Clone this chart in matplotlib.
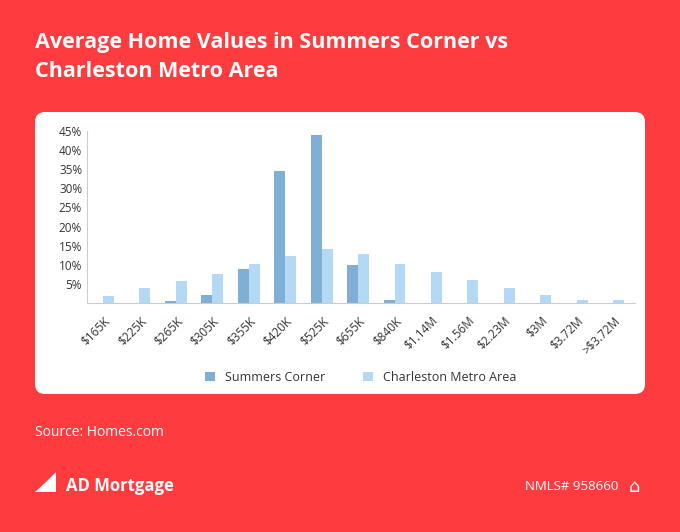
import matplotlib
matplotlib.use("Agg")
import matplotlib.pyplot as plt
from matplotlib.patches import FancyBboxPatch, Polygon
import numpy as np

plt.rcParams['font.family'] = ['Open Sans', 'DejaVu Sans']
categories = ["$165K","$225K","$265K","$305K","$355K","$420K","$525K","$655K","$840K","$1.14M","$1.56M","$2.23M","$3M","$3.72M",">$3.72M"]
summers = [0,0,0.5,2,8.8,34.5,44,10,0.8,0,0,0,0,0,0]
charleston = [1.8,4,5.8,7.5,10.3,12.3,14,12.8,10.2,8.2,6.1,4,2,0.9,0.9]
yticks = [5,10,15,20,25,30,35,40,45]

W,H = 680,532
fig = plt.figure(figsize=(W/100,H/100), dpi=100)
fig.patch.set_facecolor('#fe3b3f')
bg = fig.add_axes([0,0,1,1]); bg.set_xlim(0,W); bg.set_ylim(H,0); bg.axis('off')
bg.add_patch(FancyBboxPatch((35,112),610,282,boxstyle="round,pad=0,rounding_size=10",fc='white',ec='none'))
bg.text(35,57,"Average Home Values in Summers Corner vs\nCharleston Metro Area",color='white',fontsize=15.5,fontweight='bold',va='center',linespacing=1.45)
bg.text(35,433,"Source: Homes.com",color='white',fontsize=10,va='center')
bg.add_patch(Polygon([(35,472),(46,482),(56,472),(56,492),(35,492),(46,482)],closed=True,fc='white',ec='none'))
bg.text(66,486,"AD Mortgage",color='white',fontsize=12,fontweight='bold',va='center')
bg.text(618,487,"NMLS# 958660",color='white',fontsize=9.5,va='center',ha='right')
bg.text(634,487,"⌂",color='white',fontsize=13,va='center',ha='center',family=['DejaVu Sans'])

ax = fig.add_axes([87/W,1-303/H,(635-87)/W,(303-131)/H])
x = np.arange(len(categories)); w=0.3
ax.bar(x-w/2,summers,w,color='#7fafd5',label='Summers Corner')
ax.bar(x+w/2,charleston,w,color='#b4d9f5',label='Charleston Metro Area')
ax.set_ylim(0,45); ax.set_xlim(-0.44,len(categories)-0.4)
ax.set_yticks(yticks); ax.set_yticklabels([f"{t}%" for t in yticks])
ax.set_xticks(x); ax.set_xticklabels(categories,rotation=45,ha='right',rotation_mode='anchor')
for s in ['top','right']: ax.spines[s].set_visible(False)
for s in ['left','bottom']: ax.spines[s].set_color('#cccccc')
ax.tick_params(length=0,labelsize=8.5,colors='#333333')
ax.tick_params(axis='x',pad=8)
ax.legend(loc='upper center',bbox_to_anchor=(0.5,-0.33),ncol=2,frameon=False,fontsize=9,handlelength=0.8,handleheight=0.8,columnspacing=3,labelcolor='#333333')
fig.savefig('out.png',dpi=100,facecolor=fig.get_facecolor())
